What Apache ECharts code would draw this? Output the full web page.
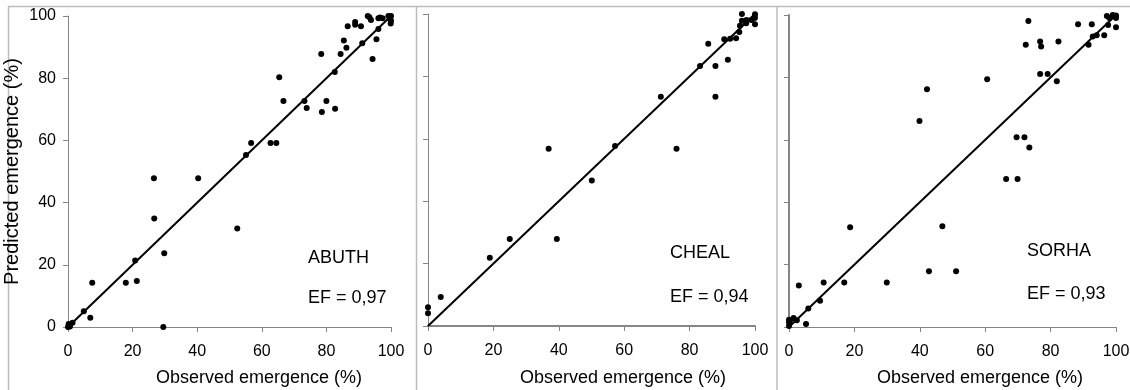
<!DOCTYPE html>
<html>
<head>
  <meta charset="UTF-8" />
  <title>Observed vs predicted emergence</title>
  <script src="https://cdn.jsdelivr.net/npm/echarts@6/dist/echarts.min.js"></script>
  <style>
    html, body { margin: 0; padding: 0; background: #fff; }
    #chart { width: 1130px; height: 390px; }
  </style>
</head>
<body>
  <div id="chart"></div>
  <script>
    // ABUTH
    const abuthObs = [0, 0.3, 0.6, 0.2, 1.4, 4.9, 6.9, 7.5, 17.9, 20.8, 21.3, 26.7, 26.6, 29.5, 29.8, 40.3, 52.4,
      55.1, 56.7, 62.7, 64.5, 65.4, 66.7, 73.2, 73.9, 78.4, 78.6, 80.0, 82.6, 82.7, 84.4, 85.4, 86.2, 86.6,
      88.9, 88.9, 90.7, 91.1, 92.8, 93.3, 93.8, 94.3, 95.5, 96.1, 96.1, 96.6, 97.4, 99.2, 99.7, 99.9, 100, 100];
    const abuthPred = [0, 0.5, 0.2, 1.0, 1.4, 5.1, 3.0, 14.2, 14.2, 21.4, 14.8, 34.9, 47.8, 0, 23.7, 47.8, 31.7,
      55.3, 59.2, 59.2, 59.2, 80.3, 72.7, 72.7, 70.4, 87.8, 69.1, 72.7, 82.0, 70.2, 87.8, 92.1, 89.8, 96.7,
      98.1, 97.2, 96.7, 91.2, 100, 99.6, 98.7, 86.2, 92.5, 95.8, 99.3, 99.5, 99.3, 100, 99.0, 97.6, 100, 98.5];

    // CHEAL
    const chealObs = [0, 0, 3.9, 18.9, 25.0, 39.4, 36.9, 50.1, 57.2, 71.2, 76.0, 83.2, 85.7, 87.9, 87.9, 90.6,
      91.7, 92.4, 94.2, 95.2, 95.4, 96.0, 96.0, 97.3, 97.4, 98.9, 99.6, 100, 100, 100];
    const chealPred = [6.0, 4.1, 9.3, 21.9, 27.9, 27.9, 56.8, 46.6, 57.7, 73.5, 56.8, 83.3, 90.5, 73.5, 83.3, 91.9,
      85.3, 92.1, 92.2, 94.2, 96.2, 100, 97.8, 97.0, 98.1, 98.1, 98.6, 99.9, 98.8, 96.7];

    // SORHA
    const sorhaObs = [0, 0, 0, 0.3, 1.4, 2.4, 3.0, 5.2, 5.9, 9.5, 10.6, 16.9, 18.7, 29.9, 39.9, 42.2, 42.8, 46.9,
      51.1, 60.6, 66.4, 69.6, 69.9, 72.0, 72.4, 73.2, 73.5, 76.8, 76.8, 77.1, 79.1, 81.9, 82.4, 88.4, 91.6,
      92.6, 92.9, 94.1, 96.4, 97.2, 97.6, 98.0, 99.0, 100, 100, 100];
    const sorhaPred = [0.3, 1.5, 2.3, 1.9, 2.9, 2.2, 13.3, 1.0, 5.9, 8.4, 14.3, 14.3, 32.0, 14.3, 66.0, 76.2, 17.9, 32.3,
      17.9, 79.4, 47.4, 60.8, 47.4, 60.8, 90.5, 98.1, 57.5, 91.5, 81.1, 89.9, 81.1, 78.8, 91.5, 97.0, 90.5,
      97.0, 93.1, 93.5, 93.5, 99.7, 96.8, 99.0, 100, 99.8, 99.0, 96.1];

    const species = ['ABUTH', 'CHEAL', 'SORHA'];
    const efValues = ['0,97', '0,94', '0,93'];
    const oneToOne = [[0, 0], [100, 100]];

    const observed = [abuthObs, chealObs, sorhaObs];
    const predicted = [abuthPred, chealPred, sorhaPred];

    const chart = echarts.init(document.getElementById('chart'));
    const font = 'Liberation Sans, Arial, sans-serif';
    const axisGray = '#868686';

    const grids = [
      { left: 68, right: 739, top: 16, bottom: 63 },
      { left: 428, right: 375, top: 14, bottom: 64 },
      { left: 789, right: 14, top: 15, bottom: 63 }
    ];
    // thicker axis lines seen on some panels
    const xLineW = [1, 2, 1];
    const yLineW = [1, 1, 2];

    const xAxes = grids.map((g, i) => ({
      gridIndex: i, type: 'value', min: 0, max: 100, interval: 20,
      axisLine: { show: true, lineStyle: { color: axisGray, width: xLineW[i] } },
      axisTick: { show: true, length: 5, lineStyle: { color: axisGray } },
      axisLabel: { margin: 17, color: '#000', fontFamily: font, fontSize: 16 },
      splitLine: { show: false }
    }));

    const yAxes = grids.map((g, i) => ({
      gridIndex: i, type: 'value', min: 0, max: 100, interval: 20,
      name: i === 0 ? 'Predicted emergence (%)' : '',
      nameLocation: 'middle', nameGap: 46,
      nameTextStyle: { color: '#000', fontFamily: font, fontSize: 20 },
      axisLine: { show: true, lineStyle: { color: axisGray, width: yLineW[i] } },
      axisTick: { show: true, length: 5, lineStyle: { color: axisGray } },
      axisLabel: { show: i === 0, margin: 12, color: '#000', fontFamily: font, fontSize: 16 },
      splitLine: { show: false }
    }));

    const series = [];
    species.forEach((sp, i) => {
      series.push({
        name: sp + ' 1:1', type: 'line', xAxisIndex: i, yAxisIndex: i,
        data: oneToOne, symbol: 'none', silent: true,
        lineStyle: { color: '#000', width: 2 }, z: 2
      });
      series.push({
        name: sp, type: 'scatter', xAxisIndex: i, yAxisIndex: i,
        data: observed[i].map((v, k) => [v, predicted[i][k]]),
        symbol: 'circle', symbolSize: 6,
        itemStyle: { color: '#000', opacity: 1 }, z: 3
      });
    });

    const border = { stroke: '#bcbcbc', lineWidth: 1.5 };
    const titleCenters = [259, 623, 980];
    const labelLeft = [308, 670, 1027];
    const labelTop = [258, 253, 251];
    const efTop = [298, 297, 294];

    const graphic = [
      { type: 'line', shape: { x1: 8, y1: 6.5, x2: 1130, y2: 6.5 }, style: border },
      { type: 'line', shape: { x1: 8.5, y1: 6.5, x2: 8.5, y2: 390 }, style: border },
      { type: 'line', shape: { x1: 416.5, y1: 6.5, x2: 416.5, y2: 390 }, style: border },
      { type: 'line', shape: { x1: 777, y1: 6.5, x2: 777, y2: 390 }, style: border }
    ];
    species.forEach((sp, i) => {
      graphic.push({
        type: 'text', x: titleCenters[i], y: 378,
        style: { text: 'Observed emergence (%)', font: '18px ' + font, fill: '#000',
          textAlign: 'center', textVerticalAlign: 'middle' }
      });
      graphic.push({
        type: 'text', x: labelLeft[i], y: labelTop[i],
        style: { text: sp, font: '18px ' + font, fill: '#000', textVerticalAlign: 'middle' }
      });
      graphic.push({
        type: 'text', x: labelLeft[i], y: efTop[i],
        style: { text: 'EF = ' + efValues[i], font: '18px ' + font, fill: '#000', textVerticalAlign: 'middle' }
      });
    });

    chart.setOption({
      animation: false,
      backgroundColor: '#fff',
      grid: grids.map(g => Object.assign({ outerBoundsMode: 'none', containLabel: false }, g)),
      xAxis: xAxes,
      yAxis: yAxes,
      series: series,
      graphic: graphic
    });
  </script>
</body>
</html>
